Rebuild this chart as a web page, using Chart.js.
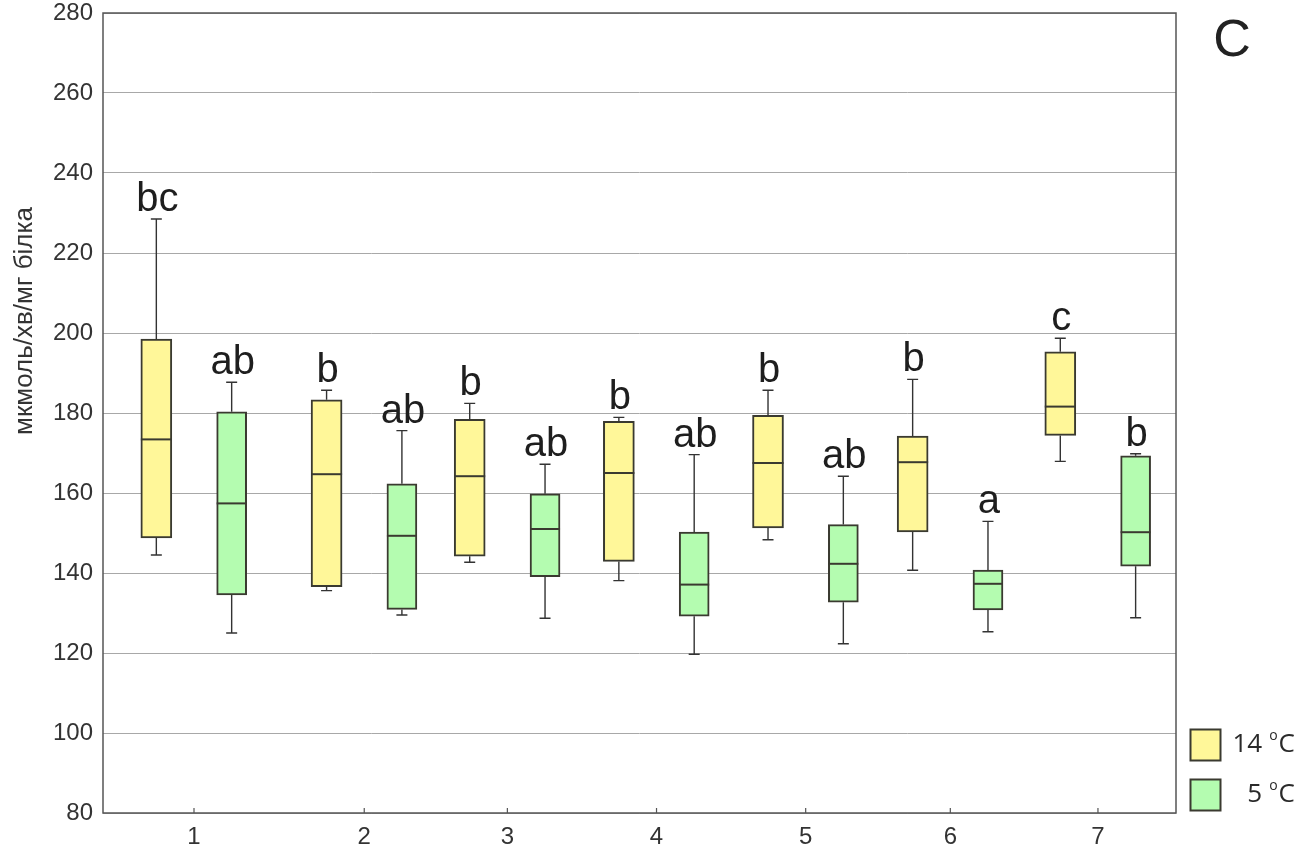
<!DOCTYPE html>
<html>
<head>
<meta charset="utf-8">
<script src="https://cdn.jsdelivr.net/npm/chart.js@4.4.0/dist/chart.umd.min.js"></script>
<style>
  html, body { margin: 0; padding: 0; background: #fff; }
  #wrap { width: 1314px; height: 854px; }
</style>
</head>
<body>
<div id="wrap"><canvas id="chart"></canvas></div>
<script>
const groups = ['1', '2', '3', '4', '5', '6', '7'];
const groupX = [1, 2.13, 3.08, 4.07, 5.06, 6.02, 7];

// 14 °C
const warmMin = [144.5, 135.6, 142.7, 138.1, 148.3, 140.7, 167.9];
const warmQ1  = [148.8, 136.6, 144.2, 142.9, 151.3, 150.3, 174.4];
const warmMed = [173.4, 164.7, 164.2, 165.0, 167.5, 167.7, 181.6];
const warmQ3  = [198.5, 183.3, 178.4, 177.9, 179.4, 174.2, 195.3];
const warmMax = [228.5, 185.7, 182.4, 178.9, 185.7, 188.4, 198.7];
const warmLetters = ['bc', 'b', 'b', 'b', 'b', 'b', 'c'];

// 5 °C
const coldMin = [125.0, 129.5, 128.7, 119.7, 122.3, 125.3, 128.8];
const coldQ1  = [134.5, 130.9, 139.1, 129.2, 132.7, 130.8, 141.7];
const coldMed = [157.4, 149.3, 151.0, 137.1, 142.3, 137.3, 150.2];
const coldQ3  = [180.3, 162.3, 159.8, 150.2, 152.1, 140.7, 169.3];
const coldMax = [187.7, 175.6, 167.2, 169.6, 164.2, 152.9, 169.8];
const coldLetters = ['ab', 'ab', 'ab', 'ab', 'ab', 'a', 'b'];

const yMin = 80, yMax = 280, yStep = 20;
const yTitle = 'мкмоль/хв/мг білка';
const panelLabel = 'C';

const INK = '#333';
const EDGE = '#3a3a30';
const FONT = '"Liberation Sans", Arial, sans-serif';

function boxData(q1, q3, shift) {
    return groupX.map((x, i) => ({ x: x + shift, y: [q1[i], q3[i]] }));
}

const boxExtras = {
    id: 'boxExtras',
    afterDatasetsDraw(chart) {
        const ctx = chart.ctx;
        const yScale = chart.scales.y;
        chart.data.datasets.forEach((ds, di) => {
            const meta = chart.getDatasetMeta(di);
            meta.data.forEach((bar, i) => {
                const x = bar.x;
                const half = bar.width / 2;
                const yLo = yScale.getPixelForValue(ds.stats.min[i]);
                const yQ1 = yScale.getPixelForValue(ds.stats.q1[i]);
                const yQ3 = yScale.getPixelForValue(ds.stats.q3[i]);
                const yHi = yScale.getPixelForValue(ds.stats.max[i]);
                const yMed = yScale.getPixelForValue(ds.stats.med[i]);

                ctx.save();
                ctx.strokeStyle = INK;
                ctx.lineWidth = 1.4;
                ctx.beginPath();
                // whiskers
                ctx.moveTo(x, yQ3); ctx.lineTo(x, yHi);
                ctx.moveTo(x, yQ1); ctx.lineTo(x, yLo);
                // caps
                ctx.moveTo(x - 5.5, yHi); ctx.lineTo(x + 5.5, yHi);
                ctx.moveTo(x - 5.5, yLo); ctx.lineTo(x + 5.5, yLo);
                ctx.stroke();

                // median
                ctx.strokeStyle = EDGE;
                ctx.lineWidth = 2;
                ctx.beginPath();
                ctx.moveTo(x - half, yMed); ctx.lineTo(x + half, yMed);
                ctx.stroke();

                // significance letters
                ctx.fillStyle = '#1e1e1e';
                ctx.font = '40px ' + FONT;
                ctx.textAlign = 'center';
                ctx.textBaseline = 'alphabetic';
                ctx.fillText(ds.stats.letters[i], x + 1, yHi - 8);
                ctx.restore();
            });
        });
    },
    afterDraw(chart) {
        const ctx = chart.ctx;
        const area = chart.chartArea;
        const xScale = chart.scales.x;

        ctx.save();
        // frame
        ctx.strokeStyle = '#555';
        ctx.lineWidth = 1.5;
        ctx.strokeRect(area.left, area.top, area.right - area.left, area.bottom - area.top);

        // x tick marks pointing inwards
        ctx.lineWidth = 1.2;
        ctx.beginPath();
        xScale.ticks.forEach(t => {
            const px = xScale.getPixelForValue(t.value);
            ctx.moveTo(px, area.bottom);
            ctx.lineTo(px, area.bottom - 5);
        });
        ctx.stroke();

        // y title
        ctx.fillStyle = INK;
        ctx.font = '26px ' + FONT;
        ctx.textAlign = 'center';
        ctx.textBaseline = 'middle';
        ctx.translate(25, 321);
        ctx.rotate(-Math.PI / 2);
        ctx.fillText(yTitle, 0, 0);
        ctx.restore();

        // panel label
        ctx.save();
        ctx.fillStyle = '#222';
        ctx.font = '52px ' + FONT;
        ctx.textAlign = 'center';
        ctx.textBaseline = 'alphabetic';
        ctx.fillText(panelLabel, 1232, 56);
        ctx.restore();

        // legend
        ctx.save();
        chart.data.datasets.forEach((ds, di) => {
            const top = 729.5 + di * 50;
            ctx.fillStyle = ds.backgroundColor;
            ctx.fillRect(1190.5, top, 30, 31);
            ctx.strokeStyle = EDGE;
            ctx.lineWidth = 2;
            ctx.strokeRect(1190.5, top, 30, 31);

            const base = top + 22;
            const right = 1295;
            ctx.fillStyle = '#2a2a2a';
            ctx.textBaseline = 'alphabetic';
            ctx.textAlign = 'right';
            ctx.font = '26px "Open Sans", sans-serif';
            const cW = ctx.measureText('C').width;
            ctx.fillText('C', right, base);
            ctx.font = '14px "Open Sans", sans-serif';
            const oW = ctx.measureText('o').width;
            ctx.fillText('o', right - cW - 1, base - 12);
            ctx.font = '26px "Open Sans", sans-serif';
            ctx.fillText(ds.label.split(' ')[0], right - cW - oW - 8, base);
        });
        ctx.restore();
    }
};

new Chart(document.getElementById('chart'), {
    type: 'bar',
    data: {
        datasets: [
            {
                label: '14 °C',
                data: boxData(warmQ1, warmQ3, -0.25),
                backgroundColor: '#fff799',
                borderColor: EDGE,
                borderWidth: 2,
                borderSkipped: false,
                barThickness: 31,
                grouped: false,
                stats: { min: warmMin, q1: warmQ1, med: warmMed, q3: warmQ3, max: warmMax, letters: warmLetters }
            },
            {
                label: '5 °C',
                data: boxData(coldQ1, coldQ3, 0.25),
                backgroundColor: '#b4fcb0',
                borderColor: EDGE,
                borderWidth: 2,
                borderSkipped: false,
                barThickness: 30,
                grouped: false,
                stats: { min: coldMin, q1: coldQ1, med: coldMed, q3: coldQ3, max: coldMax, letters: coldLetters }
            }
        ]
    },
    options: {
        responsive: true,
        maintainAspectRatio: false,
        animation: false,
        layout: { padding: { top: 13, right: 138, bottom: 0, left: 0 } },
        plugins: {
            legend: { display: false },
            tooltip: { enabled: false }
        },
        scales: {
            x: {
                type: 'linear',
                offset: false,
                min: 0.396,
                max: 7.518,
                afterBuildTicks: axis => { axis.ticks = groupX.map(v => ({ value: v })); },
                afterFit: axis => {
                    axis.height = 41;
                    axis.paddingLeft = 0;
                    axis.paddingRight = 0;
                },
                grid: { display: false, drawTicks: false },
                border: { display: false },
                ticks: {
                    autoSkip: false,
                    maxRotation: 0,
                    padding: 10,
                    color: INK,
                    font: { family: FONT, size: 24 },
                    callback: (value, index) => groups[index]
                }
            },
            y: {
                min: yMin,
                max: yMax,
                afterFit: axis => {
                    axis.width = 103;
                    axis.paddingTop = 0;
                    axis.paddingBottom = 0;
                },
                grid: { color: '#a8a8a8', lineWidth: 1, drawTicks: false },
                border: { display: false },
                ticks: {
                    stepSize: yStep,
                    padding: 10,
                    color: INK,
                    font: { family: FONT, size: 24 }
                }
            }
        }
    },
    plugins: [boxExtras]
});
</script>
</body>
</html>
